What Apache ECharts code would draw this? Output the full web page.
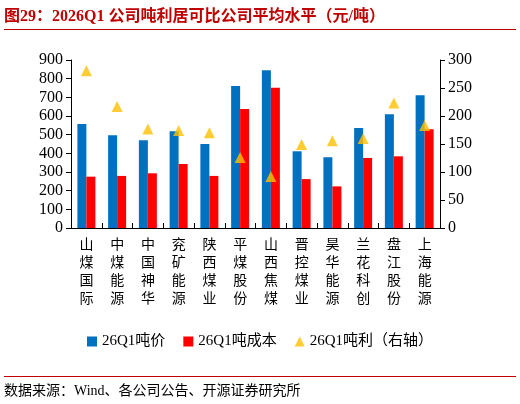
<!DOCTYPE html>
<html><head><meta charset="utf-8">
<script src="https://cdn.jsdelivr.net/npm/echarts@6/dist/echarts.min.js"></script>
<style>
body{margin:0;background:#fff}
#title{position:absolute;left:4px;top:2px;width:512px;font:bold 16px "Liberation Serif","Noto Sans CJK SC";color:#c00000;border-bottom:1.5px solid #c00000;padding-bottom:3px}
#src{position:absolute;left:4px;top:376px;width:512px;font:14px "Liberation Serif","Noto Sans CJK SC";color:#000;border-top:1px solid #c00000;padding-top:2px}
#c{position:absolute;left:0;top:0;width:520px;height:404px}
</style></head><body>
<div id="c"></div>
<div id="title">图29：2026Q1 公司吨利居可比公司平均水平（元/吨）</div>
<div id="src">数据来源：Wind、各公司公告、开源证券研究所</div>
<script>
const companies = ['山煤国际','中煤能源','中国神华','兖矿能源','陕西煤业','平煤股份','山西焦煤','晋控煤业','昊华能源','兰花科创','盘江股份','上海能源']
const price = [557, 497, 470, 518, 450, 761, 845, 411, 379, 536, 609, 711]
const cost = [275, 279, 293, 343, 279, 637, 752, 262, 223, 375, 384, 529]
const profit = [281, 217, 177, 174, 170, 126, 92, 149, 156, 160, 223, 183]

const font = '"Liberation Serif","Noto Sans CJK SC"'
const chart = echarts.init(document.getElementById('c'))
chart.setOption({
  animation: false,
  textStyle: { fontFamily: font },
  grid: { left: 71, right: 80, top: 60, bottom: 176 },
  legend: {
    bottom: 50, left: 'center', itemWidth: 10, itemHeight: 10, itemGap: 18,
    textStyle: { fontSize: 15, fontFamily: font, color: '#000' },
    data: [{ name: '26Q1吨价', icon: 'rect' }, { name: '26Q1吨成本', icon: 'rect' }, { name: '26Q1吨利（右轴）', icon: 'triangle' }]
  },
  xAxis: {
    type: 'category', data: companies,
    axisLine: { lineStyle: { color: '#000' } },
    axisTick: { show: true, inside: true, lineStyle: { color: '#000' } },
    axisLabel: { interval: 0, fontSize: 14, color: '#000', lineHeight: 18, formatter: v => v.split('').join('\n') }
  },
  yAxis: [
    { type: 'value', min: 0, max: 900, interval: 100, splitLine: { show: false },
      axisLine: { show: true, lineStyle: { color: '#000' } }, axisTick: { show: true },
      axisLabel: { fontSize: 16, color: '#000' } },
    { type: 'value', min: 0, max: 300, interval: 50, splitLine: { show: false },
      axisLine: { show: true, lineStyle: { color: '#000' } }, axisTick: { show: true },
      axisLabel: { fontSize: 16, color: '#000' } }
  ],
  series: [
    { name: '26Q1吨价', type: 'bar', data: price, barWidth: 9, barGap: '0%', itemStyle: { color: '#0070c0' } },
    { name: '26Q1吨成本', type: 'bar', data: cost, barWidth: 9, itemStyle: { color: '#ff0000' } },
    { name: '26Q1吨利（右轴）', type: 'scatter', yAxisIndex: 1, data: profit, symbol: 'triangle', symbolSize: 11, itemStyle: { color: '#ffc000' } }
  ]
})
</script>
</body></html>
